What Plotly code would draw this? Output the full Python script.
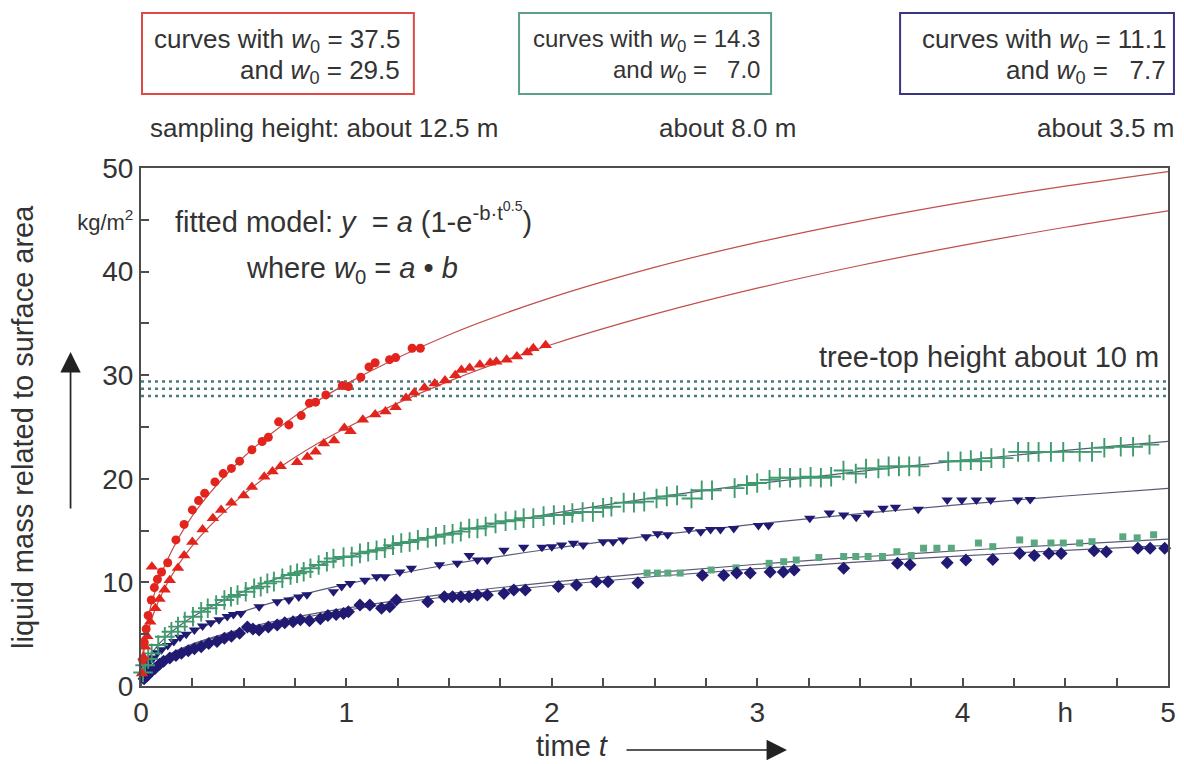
import plotly.graph_objects as go

# ---------------- data ----------------
curve_t = [0, 0.02, 0.06, 0.12, 0.25, 0.5, 0.75, 1, 1.5, 2, 2.5, 3, 3.5, 4, 4.5, 5]
fit_w375 = [0, 5.08, 8.57, 11.83, 16.43, 22.10, 26.06, 29.16, 33.91, 37.51, 40.41, 42.82, 44.88, 46.68, 48.25, 49.66]
fit_w295 = [0, 4.07, 6.93, 9.63, 13.54, 18.50, 22.07, 24.92, 29.43, 32.96, 35.89, 38.40, 40.59, 42.53, 44.28, 45.87]
fit_w143 = [0, 1.98, 3.38, 4.72, 6.66, 9.15, 10.97, 12.43, 14.78, 16.64, 18.19, 19.53, 20.71, 21.78, 22.74, 23.62]
fit_w111 = [0, 1.54, 2.64, 3.69, 5.23, 7.20, 8.65, 9.84, 11.73, 13.25, 14.53, 15.65, 16.63, 17.53, 18.34, 19.08]
fit_w077 = [0, 1.19, 2.02, 2.81, 3.95, 5.41, 6.46, 7.31, 8.64, 9.70, 10.57, 11.32, 11.98, 12.56, 13.09, 13.57]
fit_w070 = [0, 1.20, 2.05, 2.86, 4.04, 5.54, 6.64, 7.52, 8.92, 10.03, 10.95, 11.75, 12.45, 13.08, 13.65, 14.17]

red_circles = [(0.008, 2.5), (0.016, 4.2), (0.025, 5.5), (0.035, 6.8), (0.05, 8.3), (0.065, 9.5),
               (0.08, 10.3), (0.10, 11.0), (0.13, 11.9), (0.17, 14.1), (0.21, 15.6), (0.25, 17.0),
               (0.28, 17.9), (0.31, 18.6), (0.36, 19.7), (0.40, 20.5), (0.44, 21.0), (0.48, 21.7),
               (0.54, 22.8), (0.59, 23.6), (0.62, 24.0), (0.67, 25.5), (0.72, 25.2), (0.78, 26.1),
               (0.82, 27.3), (0.85, 27.4), (0.90, 28.1), (0.98, 29.0), (1.01, 28.9), (1.07, 29.8),
               (1.11, 30.8), (1.14, 31.2), (1.21, 31.5), (1.24, 31.7), (1.32, 32.6), (1.36, 32.6)]

red_triangles = [(0.005, 1.2), (0.012, 2.8), (0.02, 3.8), (0.03, 4.8), (0.045, 6.2), (0.053, 11.5),
                 (0.07, 7.5), (0.09, 8.4), (0.115, 9.3), (0.14, 10.2), (0.18, 11.4), (0.21, 12.6),
                 (0.25, 13.9), (0.30, 15.1), (0.35, 16.2), (0.39, 17.0), (0.44, 17.7), (0.50, 18.4),
                 (0.54, 19.2), (0.60, 20.2), (0.64, 20.7), (0.68, 21.2), (0.76, 21.6), (0.81, 22.1),
                 (0.85, 22.6), (0.89, 23.4), (0.94, 23.7), (0.99, 24.9), (1.02, 24.6), (1.08, 25.7),
                 (1.14, 26.2), (1.19, 26.5), (1.24, 26.9), (1.29, 27.8), (1.33, 28.3), (1.38, 28.8),
                 (1.43, 29.2), (1.48, 29.5), (1.53, 30.0), (1.56, 30.5), (1.60, 30.7), (1.65, 31.0),
                 (1.70, 31.2), (1.73, 31.3), (1.78, 31.5), (1.83, 31.8), (1.88, 32.2), (1.91, 32.6),
                 (1.97, 32.9)]

green_crosses = [(0.01, 1.3), (0.02, 2.0), (0.035, 2.6), (0.052, 3.15), (0.084, 3.96), (0.116, 4.76),
                 (0.148, 5.24), (0.18, 5.73), (0.213, 6.21), (0.253, 6.69), (0.293, 7.17), (0.325, 7.5),
                 (0.366, 7.82), (0.406, 8.3), (0.438, 8.62), (0.47, 8.78), (0.51, 9.1), (0.551, 9.43),
                 (0.583, 9.59), (0.615, 9.91), (0.647, 10.07), (0.688, 10.4), (0.728, 10.71), (0.76, 10.88),
                 (0.792, 11.03), (0.825, 11.36), (0.865, 11.68), (0.905, 12.0), (0.937, 12.3), (0.986, 12.45),
                 (1.026, 12.5), (1.066, 12.8), (1.106, 12.96), (1.147, 13.1), (1.187, 13.3), (1.227, 13.6),
                 (1.267, 13.8), (1.308, 13.9), (1.348, 14.1), (1.396, 14.3), (1.436, 14.4), (1.477, 14.6),
                 (1.517, 14.7), (1.557, 14.9), (1.598, 15.2), (1.638, 15.2), (1.678, 15.4), (1.726, 15.7),
                 (1.775, 15.9), (1.823, 16.0), (1.863, 16.2), (1.91, 16.2), (1.96, 16.4), (2.01, 16.5),
                 (2.06, 16.5), (2.10, 16.7), (2.15, 16.8), (2.20, 16.8), (2.25, 17.2), (2.29, 17.3),
                 (2.35, 17.7), (2.40, 17.7), (2.45, 17.8), (2.51, 18.1), (2.56, 18.3), (2.61, 18.4),
                 (2.68, 18.1), (2.73, 18.9), (2.78, 18.9), (2.89, 19.1), (2.95, 19.4), (3.00, 19.6),
                 (3.06, 19.9), (3.11, 20.1), (3.16, 20.1), (3.21, 20.1), (3.26, 20.2), (3.31, 20.1),
                 (3.36, 20.2), (3.42, 20.8), (3.48, 20.5), (3.53, 21.0), (3.59, 21.0), (3.64, 21.2),
                 (3.69, 21.2), (3.74, 21.2), (3.79, 21.2), (3.93, 21.7), (3.99, 21.7), (4.04, 21.8),
                 (4.09, 21.7), (4.14, 22.0), (4.20, 22.0), (4.27, 22.6), (4.32, 22.6), (4.37, 22.6),
                 (4.43, 22.6), (4.49, 22.6), (4.57, 22.6), (4.63, 22.6), (4.69, 23.0), (4.77, 23.1),
                 (4.83, 23.1), (4.91, 23.3)]

navy_triangles = [(0.01, 1.0), (0.02, 1.8), (0.04, 2.3), (0.06, 2.7), (0.08, 3.2), (0.10, 3.5),
                  (0.13, 3.9), (0.16, 4.3), (0.19, 4.7), (0.22, 5.0), (0.26, 5.4), (0.30, 5.8),
                  (0.34, 6.1), (0.38, 6.4), (0.42, 6.7), (0.45, 6.9), (0.486, 7.0), (0.575, 7.65),
                  (0.663, 8.14), (0.72, 8.3), (0.768, 8.6), (0.808, 8.8), (0.937, 9.1), (0.977, 9.6),
                  (1.018, 9.9), (1.09, 10.2), (1.147, 10.55), (1.187, 10.55), (1.26, 11.0), (1.316, 11.36),
                  (1.453, 11.7), (1.54, 11.84), (1.598, 12.6), (1.638, 12.16), (1.686, 12.16), (1.767, 13.1),
                  (1.863, 13.4), (1.952, 13.4), (2.0, 13.45), (2.048, 13.6), (2.105, 13.77), (2.153, 13.6),
                  (2.25, 13.93), (2.298, 13.93), (2.346, 14.1), (2.459, 14.4), (2.515, 14.7), (2.564, 14.6),
                  (2.668, 15.1), (2.725, 14.9), (2.773, 15.1), (2.821, 15.1), (2.886, 15.2), (3.006, 15.5),
                  (3.055, 15.5), (3.256, 16.2), (3.351, 16.7), (3.421, 16.5), (3.482, 16.3), (3.542, 16.7),
                  (3.613, 17.15), (3.673, 17.25), (3.784, 17.05), (3.925, 17.95), (3.996, 17.95),
                  (4.067, 17.95), (4.137, 17.95), (4.268, 17.95), (4.329, 18.0)]

navy_diamonds = [(0.015, 0.7), (0.03, 1.0), (0.05, 1.4), (0.068, 1.7), (0.09, 2.1), (0.11, 2.4),
                 (0.14, 2.7), (0.17, 2.95), (0.197, 3.15), (0.23, 3.4), (0.26, 3.6), (0.293, 3.8),
                 (0.33, 4.1), (0.37, 4.3), (0.406, 4.6), (0.44, 4.8), (0.48, 5.1), (0.518, 5.7),
                 (0.545, 5.5), (0.575, 5.4), (0.62, 5.7), (0.663, 5.9), (0.70, 6.1), (0.74, 6.2),
                 (0.776, 6.4), (0.82, 6.3), (0.873, 6.5), (0.91, 6.8), (0.95, 6.9), (0.986, 7.0),
                 (1.01, 7.17), (1.066, 7.82), (1.114, 7.82), (1.171, 7.5), (1.211, 7.66), (1.243, 8.3),
                 (1.396, 8.14), (1.477, 8.62), (1.517, 8.62), (1.557, 8.62), (1.597, 8.62), (1.638, 8.78),
                 (1.686, 8.78), (1.767, 8.94), (1.815, 9.27), (1.871, 9.27), (2.032, 9.6), (2.12, 9.75),
                 (2.217, 10.07), (2.274, 10.07), (2.419, 9.97), (2.733, 10.7), (2.837, 10.7), (2.9, 10.9),
                 (2.966, 10.9), (3.063, 11.0), (3.127, 11.0), (3.18, 11.2), (3.421, 11.36), (3.683, 11.84),
                 (3.744, 11.7), (3.925, 11.9), (4.016, 12.16), (4.147, 12.2), (4.278, 12.8), (4.349, 12.6),
                 (4.42, 12.8), (4.48, 12.8), (4.64, 13.06), (4.70, 12.96), (4.853, 13.3), (4.913, 13.3),
                 (4.984, 13.3)]

green_squares = [(2.464, 10.9), (2.514, 10.9), (2.565, 10.9), (2.625, 10.9), (2.776, 11.2), (2.897, 11.4),
                 (3.058, 11.84), (3.129, 12.0), (3.19, 12.16), (3.30, 12.4), (3.421, 12.5), (3.48, 12.5),
                 (3.54, 12.5), (3.61, 12.5), (3.68, 12.96), (3.75, 12.6), (3.81, 13.3), (3.875, 13.3),
                 (3.945, 13.3), (4.077, 13.8), (4.147, 13.45), (4.278, 14.1), (4.349, 13.8), (4.43, 13.8),
                 (4.49, 13.8), (4.57, 13.8), (4.63, 13.93), (4.78, 14.4), (4.85, 14.3), (4.93, 14.6)]

treetop_levels = [28.0, 28.7, 29.4]

x_tickvals = [0, 1, 2, 3, 4, 4.5, 5]
x_ticktext = ['0', '1', '2', '3', '4', 'h', '5']
y_tickvals = [0, 10, 20, 30, 40, 45, 50]
y_ticktext = ['0', '10', '20', '30', '40', '<span style="font-size:22px">kg/m<sup>2</sup></span>', '50']

# ---------------- styling ----------------
RED = '#e3241d'
RED_LINE = '#c0504d'
GREEN = '#3f9a6e'
GREEN_SQ = '#5aa87f'
NAVY = '#201a72'
GREY_LINE = '#5a5a78'
TXT = '#333333'
AX = '#4d4d4d'
FONT = 'Liberation Sans, Arial, sans-serif'

W, H = 1184, 764
L, R, T, B = 141, 1176, 168, 686


def px(x):
    return (x - L) / (R - L)


def py(y):
    return (B - y) / (B - T)


def unzip(pairs):
    return [p[0] for p in pairs], [p[1] for p in pairs]


fig = go.Figure()

for ys, col in [(fit_w375, RED_LINE), (fit_w295, RED_LINE), (fit_w143, GREY_LINE),
                (fit_w111, GREY_LINE), (fit_w077, GREY_LINE), (fit_w070, GREY_LINE)]:
    fig.add_trace(go.Scatter(x=curve_t, y=ys, mode='lines',
                             line=dict(color=col, width=1.2, shape='spline', smoothing=1.0),
                             hoverinfo='skip'))

series = [
    (green_squares, dict(symbol='square', size=7, color=GREEN_SQ)),
    (navy_diamonds, dict(symbol='diamond', size=10, color=NAVY)),
    (navy_triangles, dict(symbol='triangle-down', size=10, color=NAVY)),
    (green_crosses, dict(symbol='cross-thin', size=14, color=GREEN, line=dict(color=GREEN, width=1.9))),
    (red_triangles, dict(symbol='triangle-up', size=11, color=RED)),
    (red_circles, dict(symbol='circle', size=9, color=RED)),
]
for pairs, mk in series:
    xs, ys = unzip(pairs)
    fig.add_trace(go.Scatter(x=xs, y=ys, mode='markers', marker=mk, cliponaxis=False))

shapes = []
for lv in treetop_levels:
    shapes.append(dict(type='line', xref='x', yref='y', x0=0, x1=5, y0=lv, y1=lv,
                       line=dict(color='#4a7a7a', width=2.5, dash='3px,4px'), layer='below'))

# legend boxes at top
boxes = [(142, 416, '#de4a48'), (522, 776, '#5a9f86'), (906, 1182, '#3a3580')]
for x0, x1, col in boxes:
    shapes.append(dict(type='rect', xref='paper', yref='paper', x0=px(x0), x1=px(x1),
                       y0=py(94), y1=py(13), line=dict(color=col, width=2), fillcolor='white'))

ann = []


def text(x, y, s, size, xanchor='left', yanchor='middle', **kw):
    ann.append(dict(x=px(x), y=py(y), xref='paper', yref='paper', text=s, showarrow=False,
                    xanchor=xanchor, yanchor=yanchor, font=dict(size=size, color=TXT, family=FONT), **kw))


W0 = '<i>w</i><sub>0</sub>'
PAD = '\u00a0\u00a0\u00a0'
box_lines = [
    (404, 26, 'curves with ' + W0 + ' = 37.5', 'and ' + W0 + ' = 29.5'),
    (767, 24, 'curves with ' + W0 + ' = 14.3', 'and ' + W0 + ' =' + PAD + '7.0'),
    (1176, 26, 'curves with ' + W0 + ' = 11.1', 'and ' + W0 + ' =' + PAD + '7.7'),
]
for xr, fs, l1, l2 in box_lines:
    text(xr, 40, l1, fs, xanchor='right')
    text(xr, 72, l2, fs, xanchor='right')

text(148, 128, 'sampling height: about 12.5 m', 26)
text(803, 128, 'about 8.0 m', 26, xanchor='right')
text(1184, 128, 'about 3.5 m', 26, xanchor='right')

text(173, 218, 'fitted model: <i>y</i>  = <i>a</i> (1-e<sup>-b·t<sup>0.5</sup></sup>)', 29)
text(245, 270, 'where ' + W0 + ' = <i>a</i> • <i>b</i>', 29)
text(1169, 357, 'tree-top height about 10 m', 29, xanchor='right')

text(22, 427, 'liquid mass related to surface area', 29, xanchor='center', textangle=-90)
text(576, 746, 'time <i>t</i>', 29, xanchor='center')

# arrows
ann.append(dict(x=px(70), y=py(352), xref='paper', yref='paper', text='', showarrow=True,
                ax=0, ay=158, arrowhead=2, arrowsize=2.4, arrowwidth=1.7, arrowcolor='#222222'))
ann.append(dict(x=px(792), y=py(750), xref='paper', yref='paper', text='', showarrow=True,
                ax=-162, ay=0, arrowhead=2, arrowsize=2.4, arrowwidth=1.7, arrowcolor='#222222'))

axis_common = dict(showgrid=False, zeroline=False, showline=True, linecolor=AX, linewidth=2,
                   mirror=True, ticks='inside', ticklen=8, tickwidth=1.5, tickcolor=AX,
                   tickfont=dict(size=28, color=TXT, family=FONT), tickmode='array')

fig.update_layout(
    width=W, height=H,
    margin=dict(l=L, r=W - R, t=T, b=H - B, pad=0),
    paper_bgcolor='white', plot_bgcolor='white',
    showlegend=False,
    font=dict(family=FONT, color=TXT),
    xaxis=dict(range=[0, 5], tickvals=x_tickvals, ticktext=x_ticktext,
               minor=dict(tickmode='array', tickvals=[i * 0.25 for i in range(21)], ticks='inside',
                          ticklen=8, tickwidth=1.5, tickcolor=AX), **axis_common),
    yaxis=dict(range=[0, 50], tickvals=y_tickvals, ticktext=y_ticktext,
               minor=dict(tickmode='array', tickvals=[i * 5 for i in range(11)], ticks='inside',
                          ticklen=8, tickwidth=1.5, tickcolor=AX), **axis_common),
    shapes=shapes,
    annotations=ann,
)

fig.write_html('out.html', config={'displayModeBar': False})
